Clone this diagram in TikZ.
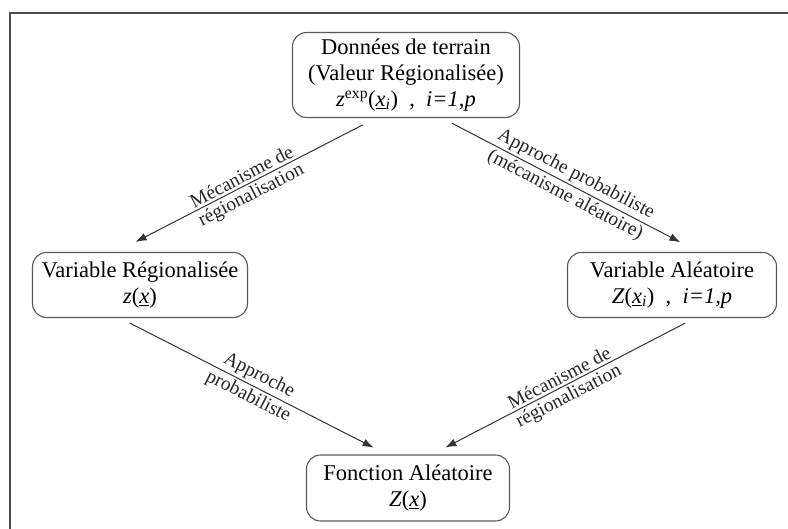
\documentclass[tikz,border=0pt]{standalone}
\usepackage{fontspec}
\setmainfont{Liberation Serif}
\usetikzlibrary{arrows.meta}
\begin{document}
\begin{tikzpicture}[x=1pt,y=-1pt,
  boite/.style={draw=black!65, line width=1.1pt, rounded corners=14pt, align=center,
    font=\fontsize{22.5}{26}\selectfont, minimum height=65pt, inner sep=4pt},
  fleche/.style={-{Latex[length=11pt,width=8pt]}, draw=black!80, line width=1pt},
  etiq/.style={sloped, font=\fontsize{19.5}{20}\selectfont, inner sep=2.5pt, text=black!85}]
\useasboundingbox (0,0) rectangle (788,529);
% cadre
\draw[line width=1.5pt, black!70] (10,529) -- (10,13) -- (788,13);

% boites
\node[boite, minimum width=227pt, minimum height=85pt] (terrain) at (406,75)
  {Données de terrain\\(Valeur Régionalisée)\\\textit{z}\textsuperscript{exp}(\underline{\textit{x}}\textsubscript{\textit{i}})\enspace,\enspace\textit{i=1,p}};
\node[boite, minimum width=215pt] (varreg) at (140,285)
  {Variable Régionalisée\\\textit{z}(\underline{\textit{x}})};
\node[boite, minimum width=209pt] (varalea) at (672,285)
  {Variable Aléatoire\\\textit{Z}(\underline{\textit{x}}\textsubscript{\textit{i}})\enspace,\enspace\textit{i=1,p}};
\node[boite, minimum width=203pt, minimum height=66pt] (fonction) at (408,488)
  {Fonction Aléatoire\\\textit{Z}(\underline{\textit{x}})};

% fleches
\draw[fleche, shorten <=15pt, shorten >=22pt] ([xshift=-30pt]terrain.south) -- ([xshift=-24pt]varreg.north)
  node[etiq, above, pos=0.5] {Mécanisme de}
  node[etiq, below, pos=0.5] {régionalisation};
\draw[fleche, shorten <=11pt, shorten >=21pt] ([xshift=36pt]terrain.south) -- ([xshift=27pt]varalea.north)
  node[etiq, above, pos=0.5] {Approche probabiliste}
  node[etiq, below, pos=0.5] {(mécanisme aléatoire)};
\draw[fleche, shorten <=11pt, shorten >=15pt] ([xshift=-20pt]varreg.south) -- ([xshift=-21pt]fonction.north)
  node[etiq, above, pos=0.5] {Approche}
  node[etiq, below, pos=0.5] {probabiliste};
\draw[fleche, shorten <=11pt, shorten >=15pt] ([xshift=23pt]varalea.south) -- ([xshift=24pt]fonction.north)
  node[etiq, above, pos=0.5] {Mécanisme de}
  node[etiq, below, pos=0.5] {régionalisation};
\end{tikzpicture}
\end{document}
